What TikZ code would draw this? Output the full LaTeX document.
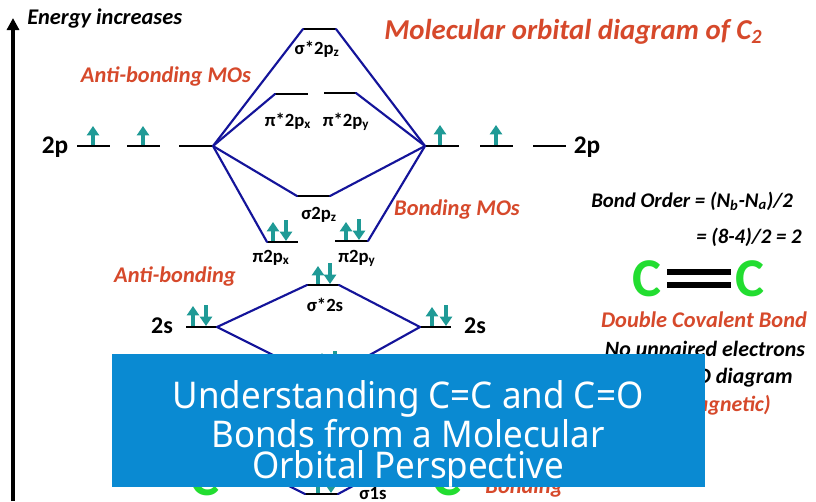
\documentclass[tikz,border=0pt]{standalone}
\usepackage{fontspec}
\setmainfont{Carlito}
\newfontfamily\bannerfont[FakeStretch=0.95]{Noto Sans}
\definecolor{mored}{HTML}{D6492B}
\definecolor{moblue}{HTML}{14149A}
\definecolor{moteal}{HTML}{1F9A96}
\definecolor{mogreen}{HTML}{22DD30}
\definecolor{moband}{HTML}{0A8AD2}
\usetikzlibrary{arrows.meta}
\newcommand{\fs}[1]{\fontsize{#1}{#1}\selectfont}
\tikzset{
  lvl/.style={draw=black,line width=1.5pt},
  conn/.style={draw=moblue,line width=1.6pt,line cap=round},
  spin/.style={draw=moteal,line width=2.4pt,-{Triangle[length=7pt,width=9pt]}},
  lab/.style={anchor=base,inner sep=0pt,font=\bfseries\fs{19}},
  orb/.style={anchor=base,inner sep=0pt,font=\bfseries\fs{14}},
  redi/.style={anchor=base,inner sep=0pt,text=mored,font=\bfseries\itshape\fs{16.8}},
  blacki/.style={anchor=base,inner sep=0pt,font=\bfseries\itshape\fs{16.4}},
  elem/.style={anchor=center,inner sep=0pt,text=mogreen,font=\bfseries\fs{41}},
  bandtext/.style={anchor=base,inner sep=0pt,text=white,font=\bannerfont\fs{27.6}},
}
\newcommand{\level}[4]{% name, x1, x2, y
  \coordinate (#1L) at (#2,#4);
  \coordinate (#1R) at (#3,#4);
  \draw[lvl] (#1L) -- (#1R);}
\newcommand{\spinup}[3]{\draw[spin] (#1,#2) -- (#1,#3);}
\newcommand{\spindown}[3]{\draw[spin] (#1,#2) -- (#1,#3);}
\begin{document}
\begin{tikzpicture}[x=0.75pt,y=-0.75pt]
\useasboundingbox (0,0) rectangle (816,501);
\fill[white] (0,0) rectangle (816,501);
% energy axis
\coordinate (axb) at (13,501);
\coordinate (axt) at (13,18);
\draw[line width=2.5pt,-{Triangle[length=9pt,width=9pt]}] (axb) -- (axt);
\node[blacki,anchor=base west,font=\bfseries\itshape\fs{16.8}] (energy) at (27,24) {Energy increases};
\node[redi,anchor=base west,font=\bfseries\itshape\fs{21.6}] (title) at (384,39) {Molecular orbital diagram of C\textsubscript{2}};
% levels
\level{pa}{77}{110}{146}
\level{pb}{127}{160}{146}
\level{pc}{179}{213}{146}
\level{qa}{425}{459}{146}
\level{qb}{480}{513}{146}
\level{qc}{533}{566}{146}
\level{ssp}{303}{336}{29}
\level{pix}{275}{308}{94}
\level{piy}{324}{356}{93}
\level{sp}{297}{330}{196}
\level{pbx}{267}{298}{242}
\level{pby}{335}{368}{241}
\level{sss}{307}{339}{285}
\level{sl}{186}{217}{327}
\level{sr}{420}{451}{327}
\level{sb}{307}{339}{372}
\level{oo}{305}{338}{494}
\coordinate (ooL2) at (217,450);
\coordinate (ooR2) at (420,450);
% connectors
\draw[conn] (pcR) -- (sspL) (sspR) -- (qaL);
\draw[conn] (pcR) -- (pixL) (piyR) -- (qaL);
\draw[conn] (pcR) -- (spL) (spR) -- (qaL);
\draw[conn] (pcR) -- (pbxL) (pbyR) -- (qaL);
\draw[conn] (slR) -- (sssL) (sssR) -- (srL);
\draw[conn] (slR) -- (sbL) (sbR) -- (srL);
\draw[conn] (ooL2) -- (ooL) (ooR) -- (ooR2);
% spins
\spinup{93}{145}{126}
\spinup{143}{145}{126}
\spinup{440}{145}{125}
\spinup{496}{145}{125}
\spinup{273}{241}{222}\spindown{286}{220}{241}
\spinup{346}{240}{222}\spindown{359}{219}{240}
\spinup{318}{284}{266}\spindown{330}{263}{284}
\spinup{193}{326}{306}\spindown{206}{305}{326}
\spinup{432}{326}{307}\spindown{446}{305}{326}
\spinup{322}{371}{353}\spindown{335}{351}{371}
\spinup{318}{493}{475}\spindown{331}{473}{493}
% labels
\node[lab] (l2p) at (55,153) {2p};
\node[lab] (r2p) at (587,153) {2p};
\node[lab,font=\bfseries\fs{18}] (l2s) at (162,333) {2s};
\node[lab,font=\bfseries\fs{18}] (r2s) at (475,333) {2s};
\node[orb] (t1) at (317,54) {σ*2p\textsubscript{z}};
\node[orb] (t2) at (288,126) {π*2p\textsubscript{x}};
\node[orb] (t3) at (346,126) {π*2p\textsubscript{y}};
\node[orb] (t4) at (319,219) {σ2p\textsubscript{z}};
\node[orb] (t5) at (271,262) {π2p\textsubscript{x}};
\node[orb] (t6) at (357,262) {π2p\textsubscript{y}};
\node[orb] (t7) at (325,311) {σ*2s};
\node[orb] (t8) at (373,499) {σ1s};
\node[redi] (a1) at (166,82) {Anti-bonding MOs};
\node[redi] (a2) at (175,282) {Anti-bonding};
\node[redi] (a3) at (457,215) {Bonding MOs};
\node[redi] (a4) at (524,493) {Bonding};
\node[blacki,anchor=base west,font=\bfseries\itshape\fs{15.6}] (b1) at (591,207) {Bond Order = (N\textsubscript{b}-N\textsubscript{a})/2};
\node[blacki,anchor=base west,font=\bfseries\itshape\fs{15.6}] (b2) at (696,243) {= (8-4)/2 = 2};
% bond
\node[elem] (c1) at (647,279) {C};
\node[elem] (c2) at (750,279) {C};
\coordinate (ba) at (667,272); \coordinate (bb) at (731,272);
\coordinate (bc) at (667,285); \coordinate (bd) at (731,285);
\draw[line width=3.8pt] (ba) -- (bb) (bc) -- (bd);
\node[redi] (d1) at (704,327) {Double Covalent Bond};
\node[blacki] (d2) at (705,356) {No unpaired electrons};
\node[blacki,anchor=base east] (d3) at (793,383) {in MO diagram};
\node[redi,anchor=base east,font=\bfseries\itshape\fs{16.4}] (d4) at (771,411) {(Diamagnetic)};
\node[elem] (c3) at (205,478) {C};
\node[elem] (c4) at (447,478) {C};
% banner
\node[anchor=north west,fill=moband,minimum width=444.75pt,minimum height=99.75pt,inner sep=0pt,outer sep=0pt] (band) at (112,354) {};
\node[bandtext] (x1) at (408,408) {Understanding C=C and C=O};
\node[bandtext] (x2) at (408,447) {Bonds from a Molecular};
\node[bandtext] (x3) at (408,478) {Orbital Perspective};
\end{tikzpicture}
\end{document}
